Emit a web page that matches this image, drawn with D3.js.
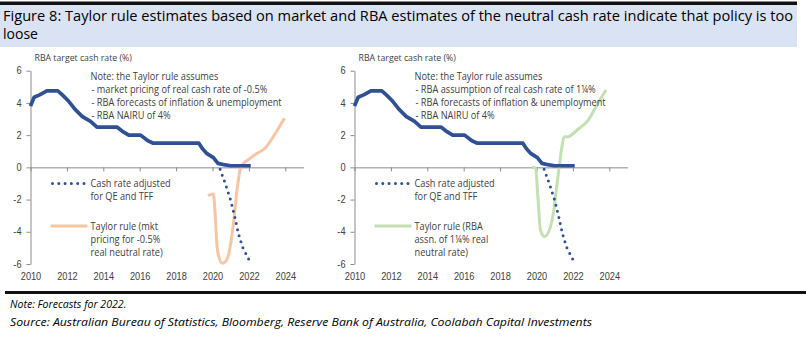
<!DOCTYPE html>
<html>
<head>
<meta charset="utf-8">
<script src="https://cdn.jsdelivr.net/npm/d3@7"></script>
<style>
body { margin: 0; background: #fff; }
svg { display: block; font-family: "Open Sans", "Noto Sans", sans-serif; }
</style>
</head>
<body>
<div id="maindiv"></div>
<script>
// ---- values ----
var cashYears = [2010.0, 2010.2, 2010.5, 2010.9, 2011.5, 2011.75, 2012.1, 2012.45, 2012.85, 2013.3, 2013.65,
    2014.75, 2015.1, 2015.4, 2016.05, 2016.45, 2016.75, 2019.25, 2019.45, 2019.7, 2020.05, 2020.3, 2020.7, 2021.0, 2022.1];
var cashRate = [3.8, 4.35, 4.5, 4.75, 4.75, 4.5, 4.1, 3.6, 3.15, 2.85, 2.5,
    2.5, 2.2, 2.0, 2.0, 1.65, 1.5, 1.5, 1.15, 0.85, 0.6, 0.25, 0.15, 0.1, 0.1];

var adjYears = [2020.3, 2020.7, 2021.0, 2021.22, 2021.42, 2021.65, 2022.1];
var adjRate = [0.25, -1.0, -2.05, -3.05, -4.1, -4.95, -5.95];

var mktYears = [2019.75, 2020.05, 2020.15, 2020.25, 2020.35, 2020.53, 2020.71, 2020.9, 2021.08, 2021.23, 2021.35,
    2021.54, 2021.8, 2022.0, 2022.35, 2022.9, 2023.45, 2023.95];
var mktTaylor = [-1.75, -1.65, -3.0, -4.9, -5.55, -5.95, -5.85, -5.35, -4.1, -2.65, -1.4,
    -0.05, 0.35, 0.5, 0.8, 1.2, 2.1, 3.05];

var rbaYears = [2019.75, 2019.95, 2020.08, 2020.22, 2020.45, 2020.72, 2020.95, 2021.12, 2021.27, 2021.4, 2021.52,
    2021.72, 2022.27, 2022.82, 2023.36, 2023.82];
var rbaTaylor = [0.0, -0.05, -1.9, -3.9, -4.3, -3.85, -2.7, -1.1, 0.25, 1.3, 1.9,
    1.9, 2.35, 2.9, 3.95, 4.8];

var yTicks = [-6, -4, -2, 0, 2, 4, 6];
var xTicks = [2010, 2012, 2014, 2016, 2018, 2020, 2022, 2024];

var noteLeft = ["Note: the Taylor rule assumes", "- market pricing of real cash rate of -0.5%",
    "- RBA forecasts of inflation & unemployment", "- RBA NAIRU of 4%"];
var noteRight = ["Note: the Taylor rule assumes", "- RBA assumption of real cash rate of 1\u00bc%",
    "- RBA forecasts of inflation & unemployment", "- RBA NAIRU of 4%"];
var adjLabel = ["Cash rate adjusted", "for QE and TFF"];
var mktLabel = ["Taylor rule (mkt", "pricing for -0.5%", "real neutral rate)"];
var rbaLabel = ["Taylor rule (RBA", "assn. of 1\u00bc% real", "neutral rate)"];

var titleLines = ["Figure 8: Taylor rule estimates based on market and RBA estimates of the neutral cash rate indicate that policy is too", "loose"];
var footLines = ["Note: Forecasts for 2022.", "Source: Australian Bureau of Statistics, Bloomberg, Reserve Bank of Australia, Coolabah Capital Investments"];

// ---- drawing ----
var width = 806, height = 339;
var blue = "#2f5192", orange = "#f6c6a4", green = "#c4dfb2", axisGrey = "#8c8c8c", textGrey = "#404040";

var svg = d3.select("#maindiv").append("svg")
    .attr("width", width)
    .attr("height", height);

// Open Sans is wider than the Calibri of the original, squeeze it a bit
function condense(sel, k) {
    sel.each(function () {
        var w = this.getComputedTextLength();
        d3.select(this).attr("textLength", w * k).attr("lengthAdjust", "spacingAndGlyphs");
    });
}

// title band
svg.append("rect").attr("x", 0).attr("y", 5).attr("width", 797).attr("height", 42).attr("fill", "#dae3f3");
svg.append("rect").attr("x", 0).attr("y", 1.5).attr("width", 797).attr("height", 3.5).attr("fill", "#111");
svg.append("text").attr("x", 3).attr("y", 21).attr("font-size", "14px").attr("fill", "#000")
    .attr("textLength", 790).attr("lengthAdjust", "spacingAndGlyphs").text(titleLines[0]);
svg.append("text").attr("x", 3).attr("y", 39).attr("font-size", "14px").attr("fill", "#000")
    .text(titleLines[1]);

// footer
svg.append("rect").attr("x", 5).attr("y", 291).attr("width", 801).attr("height", 3).attr("fill", "#111");
svg.append("text").attr("x", 10).attr("y", 308).attr("font-size", "11.5px").attr("font-style", "italic")
    .attr("fill", "#000").text(footLines[0]).call(condense, 0.92);
svg.append("text").attr("x", 10).attr("y", 326).attr("font-size", "11.5px").attr("font-style", "italic")
    .attr("fill", "#000").attr("textLength", 582).attr("lengthAdjust", "spacingAndGlyphs").text(footLines[1]);

function drawPanel(x0, tYears, tVals, tColor, note, tLabel) {
    var x = d3.scaleLinear().domain([2010, 2025]).range([x0, x0 + 15 * 18.2]);
    var y = d3.scaleLinear().domain([-6, 6]).range([264, 70.7]);
    var g = svg.append("g");

    // y axis
    var ya = g.append("g").attr("transform", "translate(" + x0 + ",0)")
        .call(d3.axisLeft(y).tickValues(yTicks).tickSize(4).tickSizeOuter(0).tickPadding(5)
            .tickFormat(function (d) { return String(d); }));
    ya.select(".domain").attr("stroke", axisGrey);
    ya.selectAll(".tick line").attr("stroke", axisGrey);
    ya.selectAll("text").attr("font-size", "10px").attr("fill", textGrey).attr("font-family", null)
        .call(condense, 0.92);

    // zero line with ticks
    var xa = g.append("g").attr("transform", "translate(0," + y(0) + ")")
        .call(d3.axisBottom(x).tickValues(xTicks).tickSize(4).tickSizeOuter(0).tickFormat(""));
    xa.select(".domain").attr("stroke", axisGrey);
    xa.selectAll(".tick line").attr("stroke", axisGrey);

    // year labels along the bottom
    var xl = g.append("g").attr("transform", "translate(0," + (y(-6) + 9) + ")")
        .call(d3.axisBottom(x).tickValues(xTicks).tickSize(0).tickPadding(0).tickFormat(d3.format("d")));
    xl.select(".domain").remove();
    xl.selectAll("text").attr("font-size", "10px").attr("fill", textGrey).attr("font-family", null)
        .call(condense, 0.92);

    g.append("text").attr("x", x0 + 4).attr("y", 61).attr("font-size", "9.5px").attr("fill", textGrey)
        .text("RBA target cash rate (%)").call(condense, 0.92);

    var line = d3.line().x(function (d) { return x(d[0]); }).y(function (d) { return y(d[1]); });

    g.append("path").datum(d3.zip(tYears, tVals))
        .attr("d", line.curve(d3.curveMonotoneX))
        .attr("fill", "none").attr("stroke", tColor).attr("stroke-width", 3).attr("stroke-linejoin", "round");

    g.append("path").datum(d3.zip(adjYears, adjRate))
        .attr("d", line.curve(d3.curveLinear))
        .attr("fill", "none").attr("stroke", blue).attr("stroke-width", 3)
        .attr("stroke-linecap", "round").attr("stroke-dasharray", "0,6.3");

    g.append("path").datum(d3.zip(cashYears, cashRate))
        .attr("d", line.curve(d3.curveLinear))
        .attr("fill", "none").attr("stroke", blue).attr("stroke-width", 3.7).attr("stroke-linejoin", "round");

    // note block
    g.append("g").selectAll("text").data(note).enter().append("text")
        .attr("x", function (d, i) { return i == 0 ? x0 + 60 : x0 + 61; })
        .attr("y", function (d, i) { return 79.5 + i * 13.3; })
        .attr("font-size", "10px").attr("fill", textGrey)
        .text(function (d) { return d; })
        .call(condense, 0.92);

    // legend
    g.append("line").attr("x1", x0 + 22).attr("x2", x0 + 54).attr("y1", 183.5).attr("y2", 183.5)
        .attr("stroke", blue).attr("stroke-width", 3).attr("stroke-linecap", "round").attr("stroke-dasharray", "0,6.3");
    g.append("g").selectAll("text").data(adjLabel).enter().append("text")
        .attr("x", x0 + 60).attr("y", function (d, i) { return 187 + i * 13.3; })
        .attr("font-size", "10px").attr("fill", textGrey).text(function (d) { return d; })
        .call(condense, 0.92);

    g.append("line").attr("x1", x0 + 20).attr("x2", x0 + 57).attr("y1", 226).attr("y2", 226)
        .attr("stroke", tColor).attr("stroke-width", 3);
    g.append("g").selectAll("text").data(tLabel).enter().append("text")
        .attr("x", x0 + 60).attr("y", function (d, i) { return 229.5 + i * 13.3; })
        .attr("font-size", "10px").attr("fill", textGrey).text(function (d) { return d; })
        .call(condense, 0.92);
}

drawPanel(30.5, mktYears, mktTaylor, orange, noteLeft, mktLabel);
drawPanel(354.5, rbaYears, rbaTaylor, green, noteRight, rbaLabel);
</script>
</body>
</html>
